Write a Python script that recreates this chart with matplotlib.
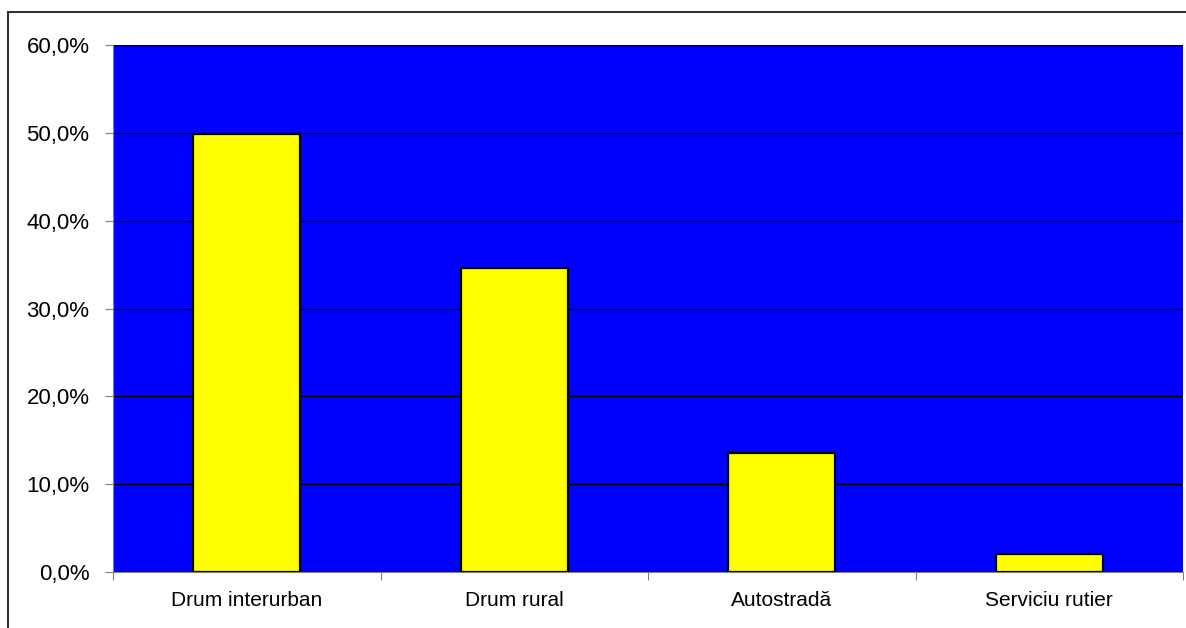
import matplotlib
matplotlib.use("Agg")
import matplotlib.pyplot as plt
from matplotlib.patches import Rectangle
from matplotlib.ticker import FuncFormatter, MultipleLocator

categories = ["Drum interurban", "Drum rural", "Autostradă", "Serviciu rutier"]
values = [49.9, 34.6, 13.6, 2.0]

plt.rcParams['font.family'] = ['Liberation Sans', 'DejaVu Sans']

W, H = 1186, 628
fig = plt.figure(figsize=(W / 100, H / 100), dpi=100)
ax = fig.add_axes([113 / W, 1 - 572 / H, (1183 - 113) / W, (572 - 45) / H])

ax.set_facecolor('#0000FF')
x = list(range(len(categories)))
ax.bar(x, values, width=0.4, color='#FFFF00', edgecolor='black', linewidth=1.6, zorder=3)

ax.set_xlim(-0.5, len(categories) - 0.5)
ax.set_ylim(0, 60)
ax.yaxis.set_major_locator(MultipleLocator(10))
ax.yaxis.set_major_formatter(FuncFormatter(lambda v, p: f"{v:.1f}%".replace('.', ',')))
ax.grid(axis='y', color='black', linewidth=1.0, zorder=1)
ax.set_axisbelow(True)

ax.set_xticks([i - 0.5 for i in range(len(categories) + 1)])
ax.set_xticklabels([])
ax.set_xticks(x, minor=True)
ax.set_xticklabels(categories, minor=True)
ax.tick_params(axis='x', which='minor', length=0, pad=14, labelsize=15)
ax.tick_params(axis='x', which='major', length=6, color='#808080', direction='out')
ax.tick_params(axis='y', length=6, color='#808080', direction='out', labelsize=16, pad=11)

for s in ['top', 'right']:
    ax.spines[s].set_visible(False)
ax.spines['left'].set_color('#808080')
ax.spines['bottom'].set_color('#808080')

fig.patches.append(Rectangle((8 / W, -0.1), 1.2, 1 - 12 / H + 0.1, transform=fig.transFigure,
                             fill=False, edgecolor='#333333', linewidth=1.5))

fig.savefig('out.png', dpi=100)
